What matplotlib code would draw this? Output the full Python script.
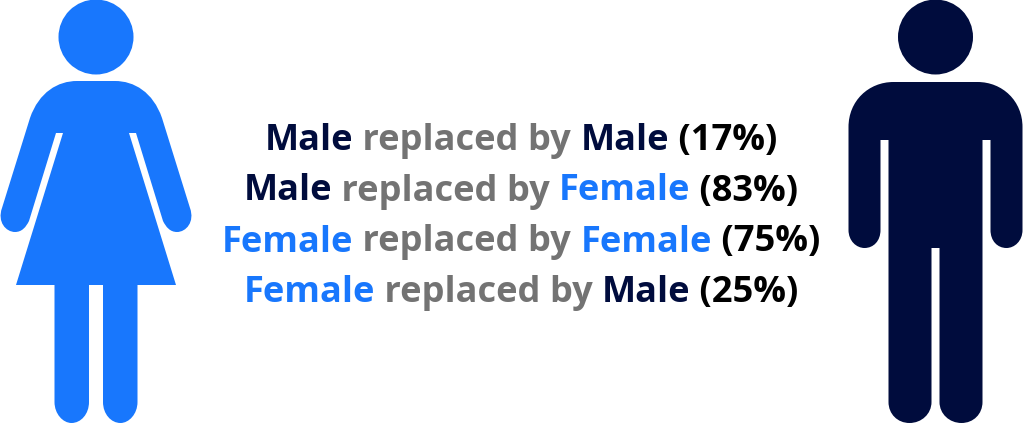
#!/usr/bin/env python3
import matplotlib
matplotlib.use("Agg")
import matplotlib.pyplot as plt
from matplotlib.patches import Circle, PathPatch
from matplotlib.path import Path

FEMALE = "#1877fd"
MALE = "#000c3d"
GREY = "#737373"
BLACK = "#000000"

from_sex = ["Male", "Male", "Female", "Female"]
to_sex = ["Male", "Female", "Female", "Male"]
shares = [17, 83, 75, 25]
colours = {"Male": MALE, "Female": FEMALE}

M, L, C = Path.MOVETO, Path.LINETO, Path.CURVE4


def mirrored(cx, half):
    """half is the right side of a figure, top to bottom, as (code, dx, y)."""
    verts = [(cx + dx, y) for _, dx, y in half]
    codes = [c for c, _, _ in half]
    # walk back up the left side; each segment's code moves to its new end
    verts += [(cx - dx, y) for _, dx, y in reversed(half)][1:]
    codes += codes[:0:-1]
    return Path(verts, codes)


female_half = [
    (M, 0, 81),
    (L, 19, 81),
    (C, 38, 81), (C, 57, 92), (C, 66, 118),
    (L, 94, 208),
    (C, 99, 222), (C, 90, 232), (C, 81, 232),
    (C, 74, 232), (C, 70, 227), (C, 67, 221),
    (L, 40, 133),
    (L, 33, 133),
    (L, 80, 285),
    (L, 41.5, 285),
    (L, 41.5, 402),
    (C, 41.5, 414), (C, 33, 423), (C, 24.5, 423),
    (C, 15, 423), (C, 7, 414), (C, 7, 402),
    (L, 7, 285),
    (L, 0, 285),
]

male_half = [
    (M, 0, 82),
    (L, 42, 82),
    (C, 67, 82), (C, 87, 101), (C, 87, 127),
    (L, 87, 230),
    (C, 87, 241), (C, 79, 248), (C, 71, 248),
    (C, 62, 248), (C, 55, 241), (C, 55, 230),
    (L, 55, 140),
    (L, 47, 140),
    (L, 47, 402),
    (C, 47, 414), (C, 38, 423), (C, 26, 423),
    (C, 14, 423), (C, 4, 414), (C, 4, 402),
    (L, 4, 248),
    (L, 0, 248),
]


def draw_line(ax, fig, words, baseline, centre, size):
    """Lay the coloured words of one line end to end, centred on centre."""
    renderer = fig.canvas.get_renderer()
    pieces = []
    total = 0
    for text, colour in words:
        t = ax.text(0, baseline, text, color=colour, fontsize=size,
                    fontweight="bold", family="Open Sans",
                    ha="left", va="baseline")
        # trailing spaces are not measured, so measure with no-break spaces
        probe = ax.text(0, 0, text.replace(" ", "\u00a0"), fontsize=size,
                        fontweight="bold", family="Open Sans")
        w = probe.get_window_extent(renderer).width
        probe.remove()
        pieces.append((t, w))
        total += w
    x = centre - total / 2
    for t, w in pieces:
        t.set_x(x)
        x += w


def main() -> None:
    fig = plt.figure(figsize=(10.24, 4.24), dpi=100)
    ax = fig.add_axes([0, 0, 1, 1])
    ax.set_xlim(0, 1024)
    ax.set_ylim(424, 0)
    ax.axis("off")

    ax.add_patch(Circle((96, 37), 37.5, color=FEMALE, lw=0))
    ax.add_patch(PathPatch(mirrored(96, female_half), fc=FEMALE, lw=0))
    ax.add_patch(Circle((935.5, 37), 37.5, color=MALE, lw=0))
    ax.add_patch(PathPatch(mirrored(935.5, male_half), fc=MALE, lw=0))

    baselines = [150, 200.5, 251.5, 302]
    for a, b, share, base in zip(from_sex, to_sex, shares, baselines):
        words = [
            (a, colours[a]),
            (" replaced by ", GREY),
            (b, colours[b]),
            (f" ({share}%)", BLACK),
        ]
        draw_line(ax, fig, words, base, 521, 26.1)

    fig.savefig("out.png", dpi=100)
    plt.close(fig)


if __name__ == "__main__":
    main()
